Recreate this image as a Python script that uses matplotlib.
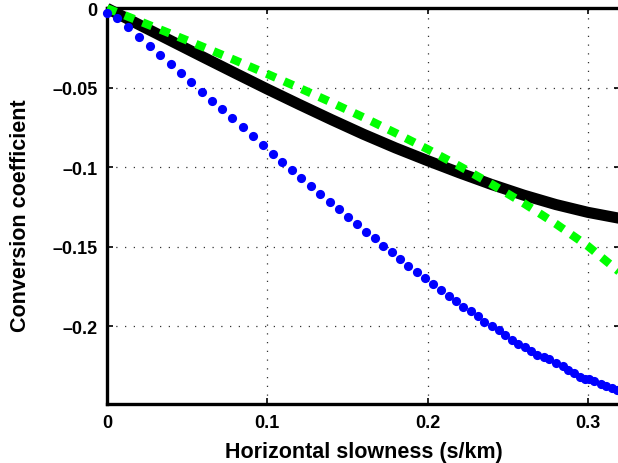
import numpy as np
import matplotlib
matplotlib.use('Agg')
import matplotlib.pyplot as plt

# horizontal slowness (s/km) and conversion coefficients
p_black = [0, 0.02, 0.04, 0.06, 0.08, 0.10, 0.12, 0.14, 0.16, 0.18, 0.20, 0.22, 0.24, 0.26, 0.28, 0.30, 0.32]
c_black = [0, -0.0103, -0.0205, -0.0307, -0.0408, -0.0508, -0.0605, -0.0700, -0.0792, -0.0878,
           -0.0958, -0.1035, -0.1108, -0.1175, -0.1234, -0.1283, -0.1321]

p_green = [0, 0.02, 0.04, 0.06, 0.08, 0.10, 0.12, 0.14, 0.16, 0.18, 0.20, 0.22, 0.24, 0.26, 0.28, 0.30, 0.32]
c_green = [0, -0.0080, -0.0161, -0.0243, -0.0327, -0.0413, -0.0501, -0.0592, -0.0686, -0.0784,
           -0.0886, -0.0993, -0.1106, -0.1226, -0.1355, -0.1495, -0.1660]

p_blue = [0.0002, 0.0064, 0.0133, 0.0201, 0.0266, 0.0333, 0.0397, 0.0462, 0.0526, 0.0591,
          0.0655, 0.0719, 0.0782, 0.0847, 0.0909, 0.0971, 0.1034, 0.1094, 0.1154, 0.1213,
          0.1273, 0.1330, 0.1389, 0.1447, 0.1503, 0.1560, 0.1616, 0.1670, 0.1724, 0.1778,
          0.1830, 0.1880, 0.1932, 0.1984, 0.2034, 0.2082, 0.2132, 0.2177, 0.2223, 0.2269,
          0.2314, 0.2352, 0.2400, 0.2444, 0.2485, 0.2525, 0.2566, 0.2606, 0.2645, 0.2684,
          0.2728, 0.2755, 0.2801, 0.2843, 0.2878, 0.2913, 0.2951, 0.2980, 0.3009, 0.3038,
          0.3080, 0.3113, 0.3150, 0.3180]
c_blue = [-0.0030, -0.0063, -0.0120, -0.0179, -0.0236, -0.0295, -0.0352, -0.0408, -0.0465, -0.0524,
          -0.0581, -0.0636, -0.0693, -0.0747, -0.0804, -0.0859, -0.0914, -0.0966, -0.1015, -0.1067,
          -0.1117, -0.1169, -0.1217, -0.1263, -0.1311, -0.1357, -0.1404, -0.1446, -0.1492, -0.1532,
          -0.1576, -0.1621, -0.1658, -0.1698, -0.1734, -0.1770, -0.1808, -0.1838, -0.1881, -0.1903,
          -0.1932, -0.1970, -0.1995, -0.2025, -0.2052, -0.2083, -0.2109, -0.2130, -0.2157, -0.2182,
          -0.2193, -0.2206, -0.2231, -0.2252, -0.2273, -0.2294, -0.2319, -0.2334, -0.2328, -0.2346,
          -0.2361, -0.2374, -0.2389, -0.2398]

x_ticks = [0, 0.1, 0.2, 0.3]
x_tick_labels = ['0', '0.1', '0.2', '0.3']
y_ticks = [0, -0.05, -0.1, -0.15, -0.2]
y_tick_labels = ['0', '\u20130.05', '\u20130.1', '\u20130.15', '\u20130.2']

plt.rc('font', family=['Liberation Sans', 'DejaVu Sans'], weight='bold', size=13)
fig = plt.figure(figsize=(6.18, 4.64), dpi=100)
ax = fig.add_axes([0.1731, 0.1265, 0.830, 0.8535])

ax.plot(p_black, c_black, color='black', linewidth=8, solid_capstyle='butt', clip_on=False, zorder=3)
ax.plot(p_green, c_green, color='#00ff00', linewidth=6, linestyle=(0, (1.2, 1.1)),
        dash_capstyle='butt', clip_on=False, zorder=4)
ax.plot(p_blue, c_blue, linestyle='none', marker='o', markersize=6.6, markeredgewidth=0,
        color='#0000ff', clip_on=False, zorder=5)

ax.set_xlim(0, 0.32)
ax.set_ylim(-0.249, 0)
ax.set_xticks(x_ticks)
ax.set_xticklabels(x_tick_labels)
ax.set_yticks(y_ticks)
ax.set_yticklabels(y_tick_labels)

ax.grid(True, color='#333333', linestyle=(0, (1, 6)), linewidth=0.9)
ax.tick_params(direction='in', length=4, width=1.2, top=True, right=True, pad=7, labelsize=13)
for side in ['left', 'bottom', 'top', 'right']:
    ax.spines[side].set_linewidth(2.4)

ax.set_xlabel('Horizontal slowness (s/km)', fontsize=15.5, fontweight='bold', labelpad=7)
ax.set_ylabel('Conversion coefficient', fontsize=15.5, fontweight='bold')
ax.yaxis.set_label_coords(-0.148, 0.478)

fig.savefig('out.png', dpi=100)
